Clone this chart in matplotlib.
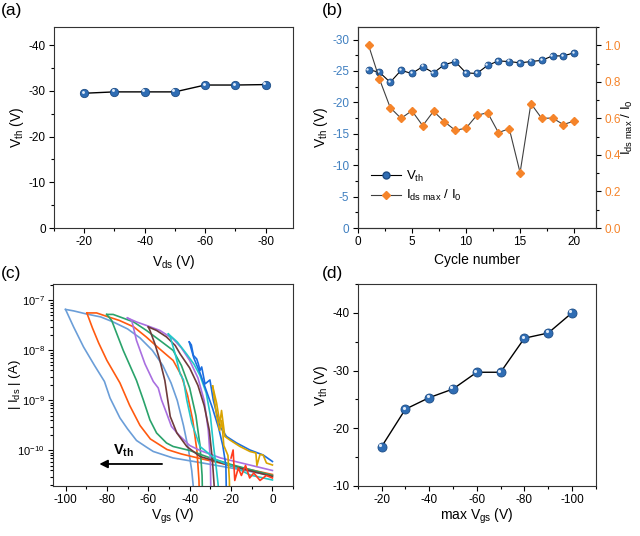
import matplotlib
matplotlib.use("Agg")
import matplotlib.pyplot as plt
import numpy as np
from matplotlib.ticker import MultipleLocator, FixedLocator
from matplotlib.transforms import offset_copy
from matplotlib.lines import Line2D

plt.rcParams['font.family'] = 'Liberation Sans'
plt.rcParams['mathtext.fontset'] = 'custom'
plt.rcParams['mathtext.rm'] = 'Liberation Sans'
plt.rcParams['mathtext.it'] = 'Liberation Sans:italic'
plt.rcParams['mathtext.bf'] = 'Liberation Sans:bold'
plt.rcParams['axes.unicode_minus'] = False
plt.rcParams['xtick.direction'] = 'out'
plt.rcParams['ytick.direction'] = 'out'

# ---- data ----
# (a) Vth vs Vds
vds = [-20, -30, -40, -50, -60, -70, -80]
vth_a = [-29.5, -29.8, -29.8, -29.8, -31.3, -31.3, -31.4]

# (b) cycling
cycle = list(range(1, 21))
vth_b = [-25.2, -24.8, -23.2, -25.1, -24.6, -25.7, -24.7, -26.0, -26.5, -24.7,
         -24.6, -25.9, -26.6, -26.5, -26.3, -26.5, -26.7, -27.4, -27.4, -27.9]
ratio_b = [1.0, 0.816, 0.659, 0.600, 0.642, 0.560, 0.639, 0.582, 0.535, 0.546,
           0.617, 0.631, 0.522, 0.544, 0.303, 0.681, 0.600, 0.602, 0.566, 0.586]

# (d) Vth vs max Vgs
vgs_max = [-20, -30, -40, -50, -60, -70, -80, -90, -100]
vth_d = [-16.8, -23.3, -25.3, -26.8, -29.7, -29.7, -35.6, -36.5, -40.0]

# (c) transfer curves, (Vgs, log10 |Ids|)
c100_ret_v = [-100, -96.1, -91.3, -86, -81.2, -78.5, -73.7, -70, -65.7, -61, -57.6, -48, -38, -20, 0]
c100_ret_i = [-7.18, -7.53, -7.93, -8.3, -8.62, -8.95, -9.35, -9.57, -9.8, -9.93, -10.02, -10.15, -10.22, -10.35, -10.5]
c100_fwd_v = [-100, -96, -90, -83, -77, -70, -64, -58, -53, -49, -46, -43, -40.5, -39, -38.3, -38]
c100_fwd_i = [-7.18, -7.21, -7.27, -7.33, -7.43, -7.57, -7.75, -8.0, -8.3, -8.65, -9.0, -9.5, -10.0, -10.4, -10.7, -11.5]

c90_ret_v = [-89.7, -87, -84, -80, -76.5, -73.7, -69, -64, -59, -51, -44, -35, -20, 0]
c90_ret_i = [-7.25, -7.55, -7.85, -8.2, -8.45, -8.65, -9.1, -9.5, -9.77, -9.98, -10.07, -10.16, -10.3, -10.48]
c90_fwd_v = [-89.7, -85, -80, -74, -67, -61, -54.5, -48, -44, -41, -38.5, -36.5, -35.5, -35]
c90_fwd_i = [-7.25, -7.25, -7.32, -7.4, -7.53, -7.73, -7.97, -8.2, -8.5, -8.9, -9.4, -10.0, -10.6, -11.5]

c80_ret_v = [-80.1, -77.7, -72.1, -65.7, -62.4, -59.2, -56, -51.2, -48, -40, -30, -20, 0]
c80_ret_i = [-7.28, -7.4, -8.0, -8.6, -8.99, -9.39, -9.65, -9.85, -9.92, -10.0, -10.15, -10.28, -10.5]
c80_fwd_v = [-80.1, -77, -73.7, -67.1, -60.9, -54.4, -48, -44, -40, -37, -35, -34, -33.5]
c80_fwd_i = [-7.28, -7.28, -7.33, -7.43, -7.6, -7.8, -8.0, -8.3, -8.75, -9.3, -9.9, -10.5, -11.5]

c70_ret_v = [-70.1, -68, -65.7, -61.6, -57.6, -55.2, -53.6, -51.2, -48.8, -45, -40, -35, -25, -10, 0]
c70_ret_i = [-7.35, -7.4, -7.8, -8.27, -8.62, -8.75, -8.99, -9.25, -9.52, -9.7, -9.9, -10.0, -10.15, -10.3, -10.4]
c70_fwd_v = [-70.1, -65.7, -60.9, -54.4, -48, -44, -40, -36, -33, -31, -30, -29.5]
c70_fwd_i = [-7.35, -7.43, -7.5, -7.6, -7.77, -7.95, -8.2, -8.55, -9.0, -9.6, -10.2, -11.5]

c60_ret_v = [-60, -59.2, -56.8, -54.4, -52, -49.4, -46.2, -41.4, -35, -19, 0]
c60_ret_i = [-7.53, -7.6, -7.87, -8.2, -8.6, -9.32, -9.65, -9.92, -10.12, -10.32, -10.52]
c60_fwd_v = [-60, -56, -51.2, -47, -44.6, -40, -36, -33, -30.5, -29, -28, -27.5]
c60_fwd_i = [-7.53, -7.6, -7.73, -7.9, -8.07, -8.35, -8.7, -9.1, -9.6, -10.2, -10.8, -11.5]

c50_ret_v = [-50.3, -49.4, -47, -44.6, -43, -41.4, -39, -35, -27, -17.3, -10.9, 0]
c50_ret_i = [-7.67, -7.73, -8.07, -8.47, -8.59, -8.99, -9.45, -9.92, -10.19, -10.35, -10.49, -10.59]
c50_fwd_v = [-50.3, -46, -41.5, -38, -35, -32, -30, -28.5, -27, -26.2, -26]
c50_fwd_i = [-7.67, -7.83, -8.07, -8.27, -8.5, -8.85, -9.3, -9.9, -10.4, -10.7, -11.5]

c40_ret_v = [-40.2, -39.2, -38.2, -36.6, -35.8, -35, -34.2, -32.6, -30.2, -28.6, -27, -25.4, -22.2, -17.3, -10.9, -4.5, 0]
c40_ret_i = [-7.83, -7.89, -8.1, -8.17, -8.27, -8.4, -8.33, -8.67, -8.59, -8.99, -9.25, -9.52, -9.72, -9.85, -9.99, -10.09, -10.22]
c40_fwd_v = [-40.2, -38, -35, -32, -29, -26, -24, -22.5, -22]
c40_fwd_i = [-7.83, -8.15, -8.45, -8.8, -9.15, -9.55, -9.9, -10.3, -11.5]

c30_ret_v = [-28.9, -27, -25.4, -24.6, -23, -20.6, -15.7, -10.9, -8, -7.5, -6, -4.5, -2.9, 0]
c30_ret_i = [-8.71, -9.05, -9.45, -9.2, -9.72, -9.79, -9.92, -10.02, -10.05, -10.3, -10.08, -10.09, -10.25, -10.29]
c30_fwd_v = [-28.9, -27, -25.5, -24.5, -23.5, -21.5, -20.8, -20.5]
c30_fwd_i = [-8.71, -9.3, -9.6, -9.4, -9.9, -10.1, -10.6, -11.5]

c20_v = [-20, -19, -18.2, -16.5, -15, -13, -11, -9, -6, -3, 0]
c20_i = [-10.15, -9.99, -10.6, -10.35, -10.5, -10.3, -10.55, -10.45, -10.6, -10.5, -10.55]

curves_c = [
    ('#6b9ed8', c100_ret_v, c100_ret_i, c100_fwd_v, c100_fwd_i),
    ('#ff5a10', c90_ret_v, c90_ret_i, c90_fwd_v, c90_fwd_i),
    ('#2aa36b', c80_ret_v, c80_ret_i, c80_fwd_v, c80_fwd_i),
    ('#a96fe0', c70_ret_v, c70_ret_i, c70_fwd_v, c70_fwd_i),
    ('#6e3b3b', c60_ret_v, c60_ret_i, c60_fwd_v, c60_fwd_i),
    ('#22c8c8', c50_ret_v, c50_ret_i, c50_fwd_v, c50_fwd_i),
    ('#1a6ee0', c40_ret_v, c40_ret_i, c40_fwd_v, c40_fwd_i),
    ('#d9a300', c30_ret_v, c30_ret_i, c30_fwd_v, c30_fwd_i),
]
log_ticks = [1e-10, 1e-9, 1e-8, 1e-7]

BALL = '#2f6db4'
BALL_EDGE = '#1d4c85'
ORANGE = '#f5842a'
BLUE_TXT = '#3f7fc0'
LAB = 10
TICK = 8.5

fig = plt.figure(figsize=(6.4, 5.36), dpi=100)


def balls(ax, x, y, ms):
    ax.plot(x, y, 'o', ms=ms, mfc=BALL, mec=BALL_EDGE, mew=0.6, zorder=3)
    tr = offset_copy(ax.transData, fig=fig, x=-ms * 0.17, y=ms * 0.17, units='points')
    ax.plot(x, y, 'o', ms=ms * 0.35, mfc='#dfeaf8', mec='none', transform=tr, zorder=4)


def style(ax):
    for s in ax.spines.values():
        s.set_linewidth(0.8)
        s.set_color('#333333')
    ax.tick_params(which='major', length=3.5, width=0.8, labelsize=TICK, pad=2.5)
    ax.tick_params(which='minor', length=2, width=0.8)


# ---- (a) ----
ax = fig.add_axes([0.0844, 0.5746, 0.373, 0.375])
ax.plot(vds, vth_a, '-', color='black', lw=1)
balls(ax, vds, vth_a, 6)
ax.set_xlim(-10, -89)
ax.set_ylim(0, -44)
ax.xaxis.set_major_locator(MultipleLocator(20))
ax.xaxis.set_minor_locator(MultipleLocator(10))
ax.yaxis.set_major_locator(MultipleLocator(10))
ax.yaxis.set_minor_locator(MultipleLocator(5))
ax.set_xlabel(r'V$_{\rm ds}$ (V)', fontsize=LAB, labelpad=3)
ax.set_ylabel(r'V$_{\rm th}$ (V)', fontsize=LAB, labelpad=2)
style(ax)
fig.text(0.002, 0.995, '(a)', fontsize=12.5, va='top')

# ---- (b) ----
ax = fig.add_axes([0.559, 0.5746, 0.372, 0.375])
ax.plot(cycle, vth_b, '-', color='black', lw=0.8)
balls(ax, cycle, vth_b, 5)
ax.set_xlim(0, 22)
ax.set_ylim(0, -32)
ax.xaxis.set_major_locator(MultipleLocator(5))
ax.xaxis.set_minor_locator(MultipleLocator(2.5))
ax.yaxis.set_major_locator(MultipleLocator(5))
ax.yaxis.set_minor_locator(MultipleLocator(2.5))
ax.set_xlabel('Cycle number', fontsize=LAB, labelpad=3)
ax.set_ylabel(r'V$_{\rm th}$ (V)', fontsize=LAB, labelpad=2)
style(ax)
ax.tick_params(axis='y', labelcolor=BLUE_TXT)
ax2 = ax.twinx()
ax2.plot(cycle, ratio_b, '-', color='#404040', lw=0.8)
ax2.plot(cycle, ratio_b, 'D', ms=3.6, color=ORANGE, mec=ORANGE, zorder=3)
ax2.set_ylim(0, 1.1)
ax2.yaxis.set_major_locator(MultipleLocator(0.2))
ax2.yaxis.set_minor_locator(MultipleLocator(0.1))
ax2.set_ylabel(r'I$_{\rm ds\ max}$ / I$_0$', fontsize=9.5)
ax2.yaxis.set_label_coords(1.1, 0.5)
style(ax2)
ax2.tick_params(axis='y', labelcolor=ORANGE)
h1 = Line2D([], [], color='black', lw=0.8, marker='o', ms=5, mfc=BALL, mec=BALL_EDGE)
h2 = Line2D([], [], color='#404040', lw=0.8, marker='D', ms=3.6, mfc=ORANGE, mec=ORANGE)
ax.legend([h1, h2], [r'V$_{\rm th}$', r'I$_{\rm ds\ max}$ / I$_0$'], loc='lower left',
          bbox_to_anchor=(0.03, 0.09), frameon=False, fontsize=9.5, handlelength=2.2,
          handletextpad=0.4, labelspacing=0.35, borderpad=0)
fig.text(0.503, 0.995, '(b)', fontsize=12.5, va='top')

# ---- (c) ----
ax = fig.add_axes([0.083, 0.0933, 0.375, 0.377])
for col, rv, ri, fv, fi in curves_c:
    ax.plot(rv, 10 ** np.array(ri), color=col, lw=1.2)
    ax.plot(fv, 10 ** np.array(fi), color=col, lw=1.2)
ax.plot(c20_v, 10 ** np.array(c20_i), color='#ff3c1e', lw=1.2)
ax.set_yscale('log')
ax.set_xlim(-106, 10)
ax.set_ylim(10 ** -10.71, 10 ** -6.67)
ax.yaxis.set_major_locator(FixedLocator(log_ticks))
ax.xaxis.set_major_locator(MultipleLocator(20))
ax.xaxis.set_minor_locator(MultipleLocator(10))
ax.annotate('', xy=(-85, 10 ** -10.27), xytext=(-52, 10 ** -10.27),
            arrowprops=dict(arrowstyle='-|>', color='black', lw=1.3, mutation_scale=12))
ax.text(-72, 10 ** -10.0, r'$\mathbf{V_{th}}$', fontsize=10.5, ha='center', va='center')
ax.set_xlabel(r'V$_{\rm gs}$ (V)', fontsize=LAB, labelpad=0)
ax.set_ylabel(r'| I$_{\rm ds}$ | (A)', fontsize=9.5)
style(ax)
ax.tick_params(axis='y', which='major', labelsize=8)
ax.yaxis.set_label_coords(-0.125, 0.5)
fig.text(0.002, 0.503, '(c)', fontsize=12.5, va='top')

# ---- (d) ----
ax = fig.add_axes([0.559, 0.0933, 0.372, 0.377])
ax.plot(vgs_max, vth_d, '-', color='black', lw=1)
balls(ax, vgs_max, vth_d, 6.5)
ax.set_xlim(-10, -110)
ax.set_ylim(-10, -45)
ax.xaxis.set_major_locator(MultipleLocator(20))
ax.xaxis.set_minor_locator(MultipleLocator(10))
ax.yaxis.set_major_locator(MultipleLocator(10))
ax.yaxis.set_minor_locator(MultipleLocator(5))
ax.set_xlabel(r'max V$_{\rm gs}$ (V)', fontsize=LAB, labelpad=0)
ax.set_ylabel(r'V$_{\rm th}$ (V)', fontsize=LAB, labelpad=2)
style(ax)
fig.text(0.503, 0.503, '(d)', fontsize=12.5, va='top')

fig.savefig('out.png', dpi=100)
